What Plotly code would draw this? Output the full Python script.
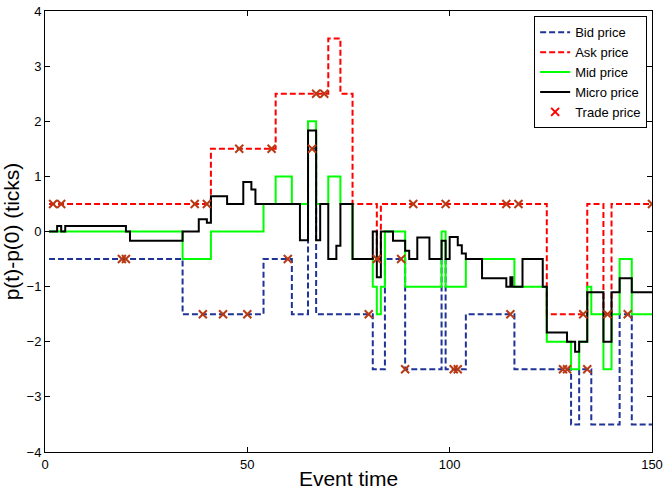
import plotly.graph_objects as go

# Best bid / best ask (ticks relative to p(0)), given as change times and new levels
bid_t = [1, 34, 54, 61, 65, 67, 81, 84, 89, 98, 99, 104, 116, 130, 132, 135, 142, 145]
bid_v = [-0.5, -1.5, -0.5, -1.5, 1.5, -1.5, -2.5, -0.5, -2.5, -0.5, -2.5, -1.5, -2.5, -3.5, -2.5, -3.5, -1.5, -3.5]

ask_t = [1, 41, 57, 70, 73, 76, 82, 83, 124, 134, 138, 140]
ask_v = [0.5, 1.5, 2.5, 3.5, 2.5, 0.5, -0.5, 0.5, -1.5, 0.5, -1.5, 0.5]

mid_t = [1, 34, 41, 54, 57, 61, 65, 67, 70, 73, 76, 81, 82, 83, 84, 89, 98, 99, 104,
         116, 124, 130, 132, 134, 135, 138, 140, 142, 145]
mid_v = [0, -0.5, 0, 0.5, 1.0, 0.5, 2.0, 0.5, 1.0, 0.5, -0.5, -1.0, -1.5, -1.0, 0, -1.0, 0, -1.0, -0.5,
         -1.0, -2.0, -2.5, -2.0, -1.0, -1.5, -2.5, -1.5, -0.5, -1.5]

micro_t = [1, 3, 4, 5, 20, 21, 34, 38, 40, 41, 45, 49, 51, 52, 63, 65, 67, 68, 70, 72, 73, 76,
           81, 82, 83, 86, 89, 90, 92, 95, 98, 99, 100, 102, 103, 104, 108, 114, 115, 115.5,
           118, 123, 124, 129, 131, 132, 134, 138, 140, 142, 145]
micro_v = [0, 0.1, 0, 0.1, 0, -0.17, 0, 0.22, 0.16, 0.64, 0.5, 0.9, 0.76, 0.5, -0.16, 1.83, -0.16, 0.5,
           -0.5, -0.26, 0.5, -0.5, 0, -0.83, 0, -0.17, -0.35, -0.5, -0.11, -0.5, -0.17, -0.5, -0.1,
           -0.25, -0.4, -0.5, -0.85, -1.0, -0.83, -1.0, -0.5, -1.0, -1.83, -2.0, -2.18, -2.0, -1.1,
           -2.0, -1.1, -0.85, -1.1]

trade_t = [2, 4, 19, 20, 37, 39, 40, 44, 48, 50, 56, 60, 66, 67, 69, 80, 82, 88, 89, 91, 99,
           101, 102, 114, 115, 117, 128, 129, 133, 134, 139, 144, 150]
trade_p = [0.5, 0.5, -0.5, -0.5, 0.5, -1.5, 0.5, -1.5, 1.5, -1.5, 1.5, -0.5, 1.5, 2.5, 2.5, -1.5,
           -0.5, -0.5, -2.5, 0.5, 0.5, -2.5, -2.5, 0.5, -1.5, 0.5, -2.5, -2.5, -1.5, -2.5, -1.5,
           -1.5, 0.5]

T_END = 150
FONT = "Liberation Sans, Arial, sans-serif"


def steps(t, v):
    # hold the final level until the end of the window
    return list(t) + [T_END], list(v) + [v[-1]]


fig = go.Figure()

bx, by = steps(bid_t, bid_v)
fig.add_trace(go.Scatter(x=bx, y=by, mode="lines", line_shape="hv", name="Bid price",
                         line=dict(color="#1f3296", width=2, dash="6px,3px")))
ax, ay = steps(ask_t, ask_v)
fig.add_trace(go.Scatter(x=ax, y=ay, mode="lines", line_shape="hv", name="Ask price",
                         line=dict(color="#ff0000", width=2, dash="6px,3px")))
mx, my = steps(mid_t, mid_v)
fig.add_trace(go.Scatter(x=mx, y=my, mode="lines", line_shape="hv", name="Mid price",
                         line=dict(color="#00ff00", width=2)))
cx, cy = steps(micro_t, micro_v)
fig.add_trace(go.Scatter(x=cx, y=cy, mode="lines", line_shape="hv", name="Micro price",
                         line=dict(color="#000000", width=2)))
fig.add_trace(go.Scatter(x=trade_t, y=trade_p, mode="markers", name="Trade price", showlegend=False,
                         marker=dict(symbol="x-thin", size=8,
                                     line=dict(color="#b83a14", width=2))))
# legend entry for the trades, drawn in pure red
fig.add_trace(go.Scatter(x=[None], y=[None], mode="markers", name="Trade price",
                         marker=dict(symbol="x-thin", size=8,
                                     line=dict(color="#ff0000", width=2))))

axis_common = dict(showgrid=False, zeroline=False, showline=True, linecolor="#000000", linewidth=1,
                   mirror="ticks", ticks="inside", ticklen=5, tickcolor="#000000", tickwidth=1,
                   automargin=False,
                   tickfont=dict(family=FONT, size=13, color="#000000"))

fig.update_layout(
    width=665, height=491,
    margin=dict(l=45, r=13, t=11, b=39),
    paper_bgcolor="white", plot_bgcolor="white",
    font=dict(family=FONT, color="#000000"),
    xaxis=dict(range=[0, 150], tickvals=[0, 50, 100, 150],
               title=dict(text="Event time", font=dict(size=21), standoff=0), **axis_common),
    yaxis=dict(range=[-4, 4], tickvals=[-4, -3, -2, -1, 0, 1, 2, 3, 4],
               title=dict(text="p(t)-p(0) (ticks)", font=dict(size=21), standoff=4), **axis_common),
    legend=dict(x=0.992, y=0.988, xanchor="right", yanchor="top", bgcolor="white",
                bordercolor="#000000", borderwidth=1, font=dict(size=13),
                itemwidth=30, tracegroupgap=0),
    showlegend=True,
)

fig.write_html("out.html")
